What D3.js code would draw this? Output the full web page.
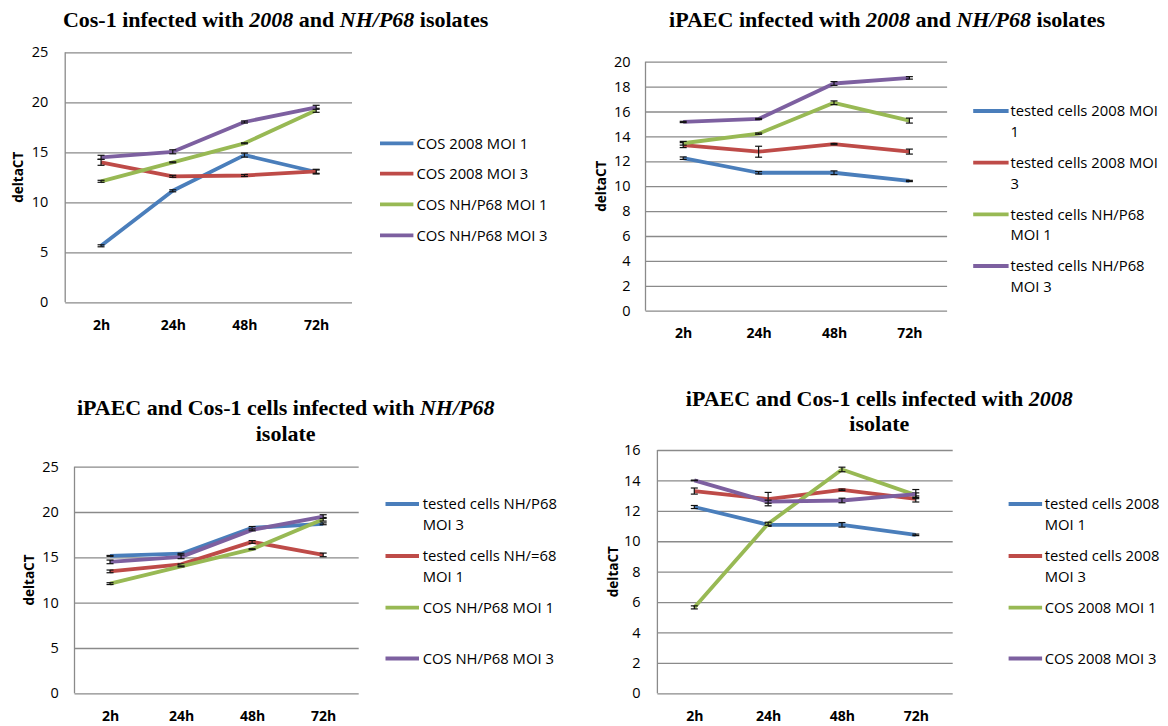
<!DOCTYPE html>
<html>
<head>
<meta charset="utf-8">
<script src="https://cdn.jsdelivr.net/npm/d3@7"></script>
<style>
  html, body { margin: 0; padding: 0; background: #fff; }
  svg { display: block; }
</style>
</head>
<body>
<svg id="chart" width="1168" height="726"></svg>
<script>
// ---------------- DATA ----------------
const categories = ["2h", "24h", "48h", "72h"];

// Cos-1 cells
const cos2008Moi1 = [5.65, 11.15, 14.72, 13.03];
const cos2008Moi3 = [14.0, 12.6, 12.68, 13.1];
const cosNHMoi1   = [12.1, 14.0, 15.9, 19.2];
const cosNHMoi3   = [14.5, 15.05, 18.03, 19.5];
// iPAEC cells
const ipaec2008Moi1 = [12.25, 11.08, 11.08, 10.42];
const ipaec2008Moi3 = [13.3, 12.77, 13.38, 12.78];
const ipaecNHMoi1   = [13.45, 14.22, 16.7, 15.27];
const ipaecNHMoi3   = [15.16, 15.4, 18.25, 18.7];

// error bars (half-range)
const cos2008Moi1Err = [0.1, 0.1, 0.2, 0.2];
const cos2008Moi3Err = [0.3, 0.1, 0.1, 0.2];
const cosNHMoi1Err   = [0.1, 0.05, 0.05, 0.2];
const cosNHMoi3Err   = [0.2, 0.2, 0.1, 0.2];
const ipaec2008Moi1Err = [0.1, 0.1, 0.15, 0.05];
const ipaec2008Moi3Err = [0.2, 0.44, 0.05, 0.2];
const ipaecNHMoi1Err   = [0.15, 0.05, 0.15, 0.2];
const ipaecNHMoi3Err   = [0.05, 0.05, 0.15, 0.1];
// error bars as drawn in the combined 2008 chart
const cos2008Moi1ErrB = [0.1, 0.1, 0.15, 0.15];
const cos2008Moi3ErrB = [0.02, 0.1, 0.15, 0.3];

// titles (text, italic?)
const title1 = [["Cos-1 infected with ", false], ["2008", true], [" and ", false], ["NH/P68", true], [" isolates", false]];
const title2 = [["iPAEC infected with ", false], ["2008", true], [" and ", false], ["NH/P68", true], [" isolates", false]];
const title3a = [["iPAEC and Cos-1 cells infected with ", false], ["NH/P68", true]];
const title3b = [["isolate", false]];
const title4a = [["iPAEC and Cos-1 cells infected with ", false], ["2008", true]];
const title4b = [["isolate", false]];

// legend labels (lines as wrapped in the reference)
const legend1 = [["COS 2008 MOI 1"], ["COS 2008 MOI 3"], ["COS NH/P68 MOI 1"], ["COS NH/P68 MOI 3"]];
const legend2 = [["tested cells 2008 MOI", "1"], ["tested cells 2008 MOI", "3"], ["tested cells NH/P68", "MOI 1"], ["tested cells NH/P68", "MOI 3"]];
const legend3 = [["tested cells NH/P68", "MOI 3"], ["tested cells NH/=68", "MOI 1"], ["COS NH/P68 MOI 1"], ["COS NH/P68 MOI 3"]];
const legend4 = [["tested cells 2008", "MOI 1"], ["tested cells 2008", "MOI 3"], ["COS 2008 MOI 1"], ["COS 2008 MOI 3"]];

const yTitle = "deltaCT";
const colors = ["#4A7EBB", "#BE4B48", "#98B954", "#7D60A0"];

// ---------------- LAYOUT ----------------
const panels = [
  { x0: 65.2, x1: 352, yTop: 52.3, yBot: 302.3, yMax: 25, yStep: 5,
    data: [cos2008Moi1, cos2008Moi3, cosNHMoi1, cosNHMoi3],
    err: [cos2008Moi1Err, cos2008Moi3Err, cosNHMoi1Err, cosNHMoi3Err],
    legend: legend1, legX0: 380, legX1: 413.4, legTextX: 416.4, legRows: [143.3, 173.7, 204.3, 235.3],
    title: [title1], titleX: 275.6, titleY: [27],
    yTitleX: 23, tickPad: 16.8 },
  { x0: 645.5, x1: 947.1, yTop: 61.7, yBot: 310.7, yMax: 20, yStep: 2,
    data: [ipaec2008Moi1, ipaec2008Moi3, ipaecNHMoi1, ipaecNHMoi3],
    err: [ipaec2008Moi1Err, ipaec2008Moi3Err, ipaecNHMoi1Err, ipaecNHMoi3Err],
    legend: legend2, legX0: 973.2, legX1: 1008.6, legTextX: 1010.4, legRows: [111, 162.7, 214.3, 266],
    title: [title2], titleX: 887, titleY: [27],
    yTitleX: 605.5, tickPad: 14.9 },
  { x0: 74.5, x1: 358.7, yTop: 466.7, yBot: 693.3, yMax: 25, yStep: 5,
    data: [ipaecNHMoi3, ipaecNHMoi1, cosNHMoi1, cosNHMoi3],
    err: [ipaecNHMoi3Err, ipaecNHMoi1Err, cosNHMoi1Err, cosNHMoi3Err],
    legend: legend3, legX0: 385.5, legX1: 419, legTextX: 422.7, legRows: [504, 556, 607.7, 658.5],
    title: [title3a, title3b], titleX: 285.7, titleY: [415, 441],
    yTitleX: 33.5, tickPad: 15.7 },
  { x0: 657.4, x1: 952.7, yTop: 450, yBot: 693.3, yMax: 16, yStep: 2,
    data: [ipaec2008Moi1, ipaec2008Moi3, cos2008Moi1, cos2008Moi3],
    err: [ipaec2008Moi1Err, ipaec2008Moi3Err, cos2008Moi1ErrB, cos2008Moi3ErrB],
    legend: legend4, legX0: 1008.6, legX1: 1042.1, legTextX: 1044.7, legRows: [504, 556, 607.7, 658.5],
    title: [title4a, title4b], titleX: 879.3, titleY: [406, 431],
    yTitleX: 617.5, tickPad: 16.8 }
];

const svg = d3.select("#chart");
svg.append("rect").attr("width", 1168).attr("height", 726).attr("fill", "#fff");

const SANS = "'Open Sans', 'DejaVu Sans', sans-serif";
const SERIF = "'Liberation Serif', 'Times New Roman', serif";
const gridColor = "#8a8a8a";
const lineW = 3.8;
const legendLineGap = 20.7;

panels.forEach(p => {
  const g = svg.append("g");
  const x = d3.scalePoint().domain(categories).range([p.x0, p.x1]).padding(0.5);
  const y = d3.scaleLinear().domain([0, p.yMax]).range([p.yBot, p.yTop]);

  // Title
  p.title.forEach((segs, li) => {
    const t = g.append("text")
      .attr("x", p.titleX).attr("y", p.titleY[li])
      .attr("text-anchor", "middle")
      .style("font-family", SERIF).style("font-weight", "bold").style("font-size", "22px")
      .attr("fill", "#000");
    segs.forEach(([s, it]) => {
      t.append("tspan").text(s).style("font-style", it ? "italic" : "normal");
    });
  });

  // Y axis with gridlines
  const yAxis = d3.axisLeft(y)
    .tickValues(d3.range(0, p.yMax + 0.001, p.yStep))
    .tickSizeInner(-(p.x1 - p.x0)).tickSizeOuter(0).tickPadding(p.tickPad)
    .tickFormat(d3.format("d"));
  const ya = g.append("g").attr("transform", `translate(${p.x0},0)`).call(yAxis);
  ya.select(".domain").remove();
  ya.selectAll(".tick line").attr("stroke", gridColor).attr("stroke-width", 1.3);
  ya.selectAll(".tick text")
    .style("font-family", SANS).style("font-size", "14.5px").attr("fill", "#000");

  // left axis line
  g.append("line").attr("x1", p.x0).attr("x2", p.x0).attr("y1", p.yTop).attr("y2", p.yBot)
    .attr("stroke", gridColor).attr("stroke-width", 1.3);

  // X axis labels
  const xAxis = d3.axisBottom(x).tickSize(0).tickPadding(17.3);
  const xa = g.append("g").attr("transform", `translate(0,${p.yBot})`).call(xAxis);
  xa.select(".domain").remove();
  xa.selectAll(".tick text")
    .style("font-family", SANS).style("font-size", "14px").style("font-weight", "bold").attr("fill", "#000");

  // Y title
  g.append("text")
    .attr("transform", `translate(${p.yTitleX},${(p.yTop + p.yBot) / 2}) rotate(-90)`)
    .attr("text-anchor", "middle")
    .style("font-family", SANS).style("font-size", "13.5px").style("font-weight", "bold")
    .attr("fill", "#000").text(yTitle);

  // Series lines
  const line = d3.line().x((d, i) => x(categories[i])).y(d => y(d));
  p.data.forEach((vals, si) => {
    g.append("path").datum(vals).attr("d", line)
      .attr("fill", "none").attr("stroke", colors[si]).attr("stroke-width", lineW)
      .attr("stroke-linejoin", "round").attr("stroke-linecap", "butt");
    // error bars
    vals.forEach((v, i) => {
      const e = p.err[si][i];
      const cx = x(categories[i]);
      const eg = g.append("g").attr("stroke", "#111").attr("stroke-width", 1.2);
      eg.append("line").attr("x1", cx).attr("x2", cx).attr("y1", y(v - e)).attr("y2", y(v + e));
      eg.append("line").attr("x1", cx - 3.5).attr("x2", cx + 3.5).attr("y1", y(v - e)).attr("y2", y(v - e));
      eg.append("line").attr("x1", cx - 3.5).attr("x2", cx + 3.5).attr("y1", y(v + e)).attr("y2", y(v + e));
    });
  });

  // Legend
  p.legend.forEach((lines, si) => {
    const ry = p.legRows[si];
    g.append("line").attr("x1", p.legX0).attr("x2", p.legX1).attr("y1", ry).attr("y2", ry)
      .attr("stroke", colors[si]).attr("stroke-width", lineW);
    lines.forEach((ln, li) => {
      g.append("text").attr("x", p.legTextX).attr("y", ry + li * legendLineGap).attr("dy", "0.36em")
        .style("font-family", SANS).style("font-size", "14.8px").attr("fill", "#000").text(ln);
    });
  });
});
</script>
</body>
</html>
